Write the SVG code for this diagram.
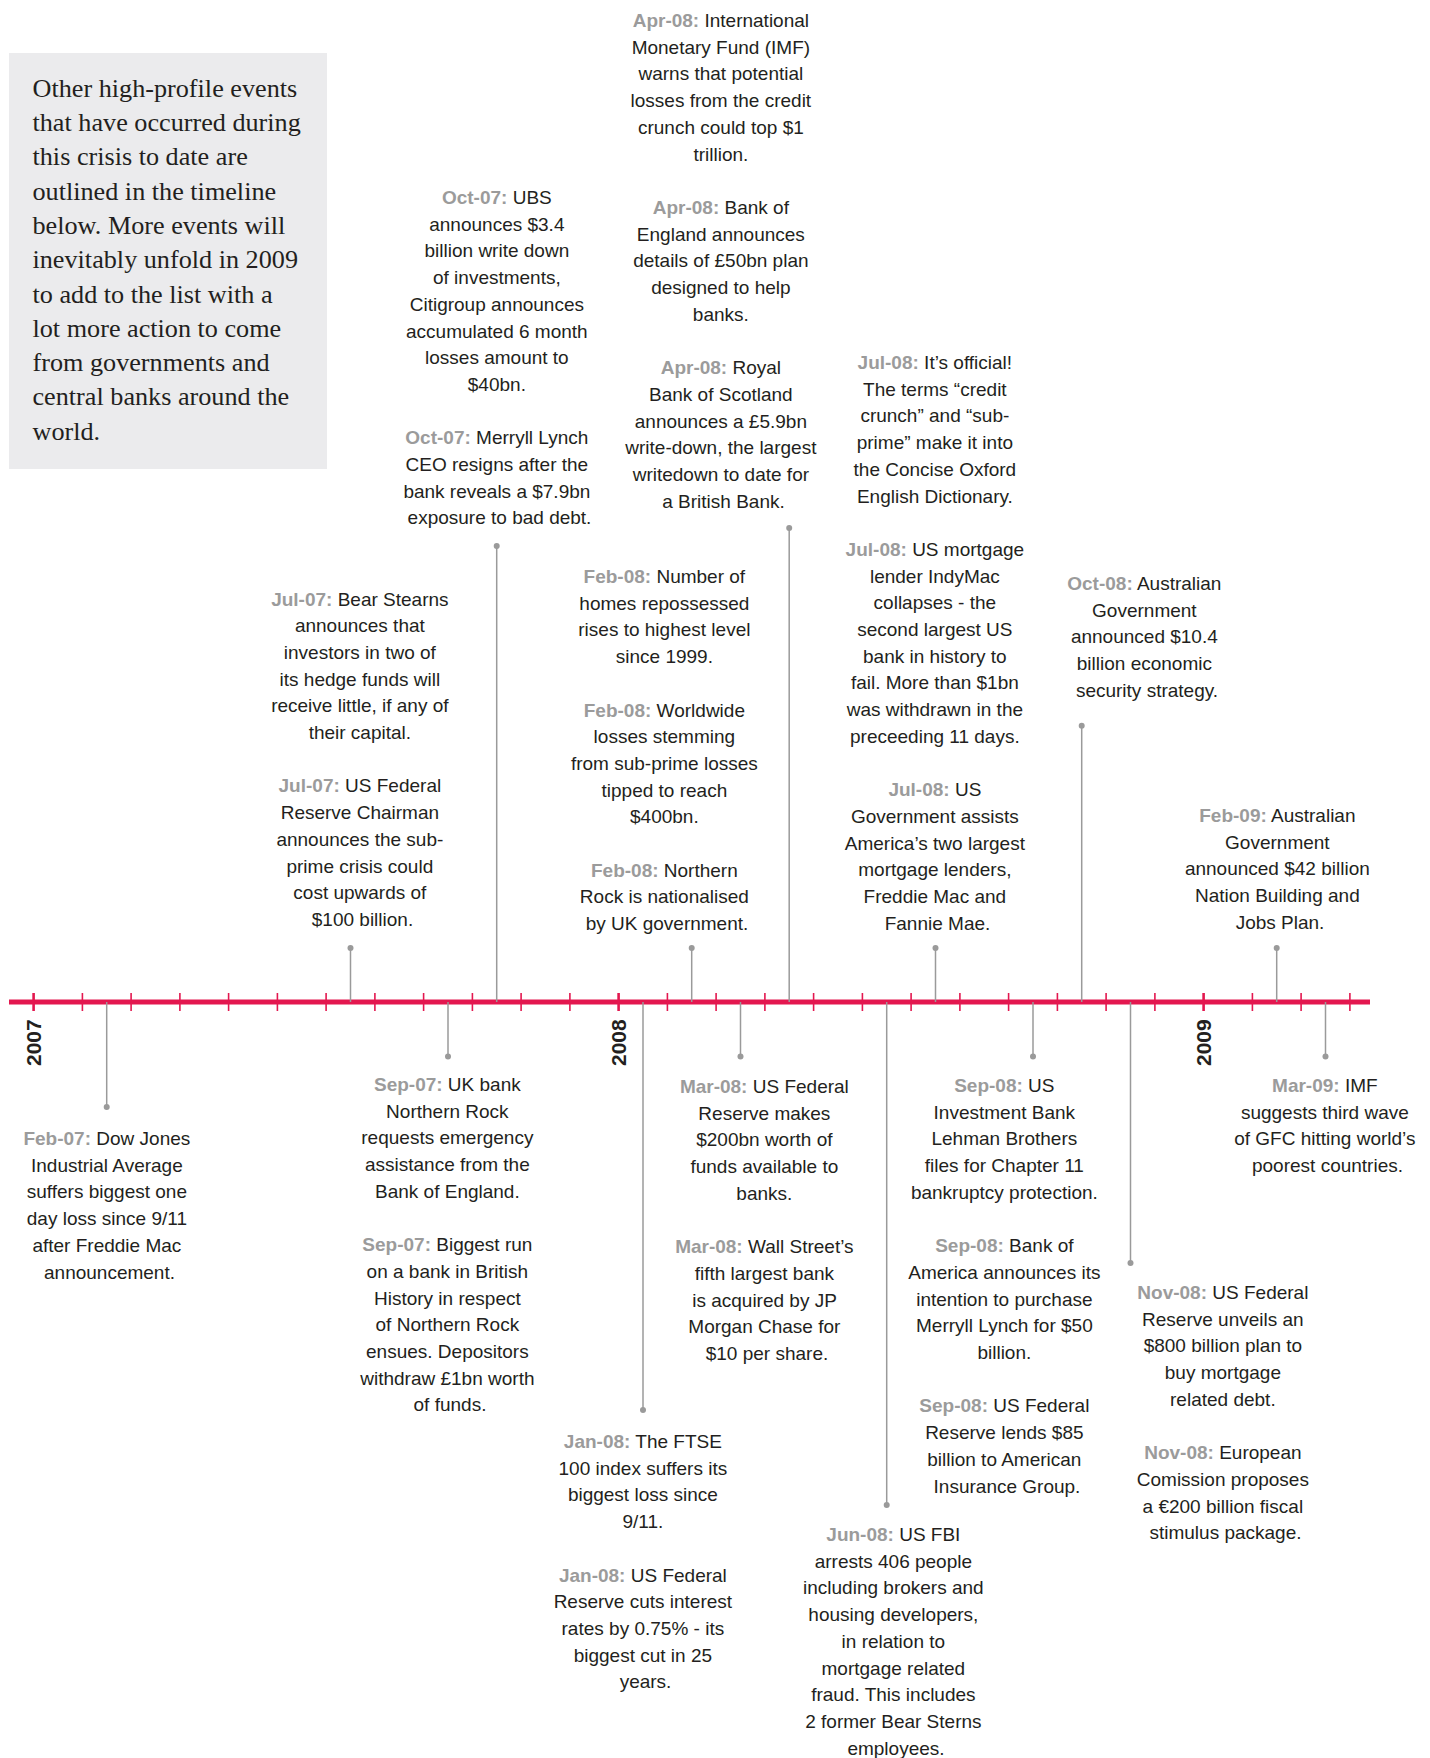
<svg xmlns="http://www.w3.org/2000/svg" width="1430" height="1758" viewBox="0 0 1430 1758">
<style>
.t{font-family:"Liberation Sans",Arial,sans-serif;font-size:19px;fill:#231f20;text-anchor:middle}
.d{font-weight:bold;fill:#9b9b9b}
.intro{font-family:"Liberation Serif","Times New Roman",serif;font-size:26.2px;fill:#231f20}
.yr{font-family:"Liberation Sans",Arial,sans-serif;font-size:21px;font-weight:bold;fill:#231f20}
.c{stroke:#9a9a9a;stroke-width:1.5;fill:none}
.dot{fill:#9a9a9a}
.tk{stroke:#e3174f;stroke-width:1.6}
.ytk{stroke:#e3174f;stroke-width:2.6}
</style>
<rect width="1430" height="1758" fill="#ffffff"/>

<g id="intro">
<rect x="9" y="53" width="318" height="416" fill="#ebebed"/>
<text class="intro">
<tspan x="32.5" y="96.7">Other high-profile events</tspan>
<tspan x="32.5" dy="34.3">that have occurred during</tspan>
<tspan x="32.5" dy="34.3">this crisis to date are</tspan>
<tspan x="32.5" dy="34.3">outlined in the timeline</tspan>
<tspan x="32.5" dy="34.3">below. More events will</tspan>
<tspan x="32.5" dy="34.3">inevitably unfold in 2009</tspan>
<tspan x="32.5" dy="34.3">to add to the list with a</tspan>
<tspan x="32.5" dy="34.3">lot more action to come</tspan>
<tspan x="32.5" dy="34.3">from governments and</tspan>
<tspan x="32.5" dy="34.3">central banks around the</tspan>
<tspan x="32.5" dy="34.3">world.</tspan>
</text>
</g>

<g id="timeline">
<line x1="9" y1="1002" x2="1370" y2="1002" stroke="#e3174f" stroke-width="5"/>
<line class="ytk" x1="33.6" y1="993" x2="33.6" y2="1011"/>
<line class="tk" x1="82.4" y1="993" x2="82.4" y2="1011"/>
<line class="tk" x1="131.1" y1="993" x2="131.1" y2="1011"/>
<line class="tk" x1="179.9" y1="993" x2="179.9" y2="1011"/>
<line class="tk" x1="228.6" y1="993" x2="228.6" y2="1011"/>
<line class="tk" x1="277.4" y1="993" x2="277.4" y2="1011"/>
<line class="tk" x1="326.1" y1="993" x2="326.1" y2="1011"/>
<line class="tk" x1="374.9" y1="993" x2="374.9" y2="1011"/>
<line class="tk" x1="423.6" y1="993" x2="423.6" y2="1011"/>
<line class="tk" x1="472.4" y1="993" x2="472.4" y2="1011"/>
<line class="tk" x1="521.1" y1="993" x2="521.1" y2="1011"/>
<line class="tk" x1="569.9" y1="993" x2="569.9" y2="1011"/>
<line class="ytk" x1="618.6" y1="993" x2="618.6" y2="1011"/>
<line class="tk" x1="667.4" y1="993" x2="667.4" y2="1011"/>
<line class="tk" x1="716.1" y1="993" x2="716.1" y2="1011"/>
<line class="tk" x1="764.9" y1="993" x2="764.9" y2="1011"/>
<line class="tk" x1="813.6" y1="993" x2="813.6" y2="1011"/>
<line class="tk" x1="862.4" y1="993" x2="862.4" y2="1011"/>
<line class="tk" x1="911.1" y1="993" x2="911.1" y2="1011"/>
<line class="tk" x1="959.9" y1="993" x2="959.9" y2="1011"/>
<line class="tk" x1="1008.6" y1="993" x2="1008.6" y2="1011"/>
<line class="tk" x1="1057.4" y1="993" x2="1057.4" y2="1011"/>
<line class="tk" x1="1106.1" y1="993" x2="1106.1" y2="1011"/>
<line class="tk" x1="1154.9" y1="993" x2="1154.9" y2="1011"/>
<line class="ytk" x1="1203.6" y1="993" x2="1203.6" y2="1011"/>
<line class="tk" x1="1252.4" y1="993" x2="1252.4" y2="1011"/>
<line class="tk" x1="1301.1" y1="993" x2="1301.1" y2="1011"/>
<line class="tk" x1="1349.9" y1="993" x2="1349.9" y2="1011"/>
<text class="yr" transform="translate(41,1066) rotate(-90)">2007</text>
<text class="yr" transform="translate(626,1066) rotate(-90)">2008</text>
<text class="yr" transform="translate(1211,1066) rotate(-90)">2009</text>
</g>

<g id="connectors">
<line class="c" x1="106.7" y1="1002" x2="106.7" y2="1107"/><circle class="dot" cx="106.7" cy="1107" r="3"/>
<line class="c" x1="350.5" y1="948" x2="350.5" y2="1002"/><circle class="dot" cx="350.5" cy="948" r="3"/>
<line class="c" x1="448" y1="1002" x2="448" y2="1056.5"/><circle class="dot" cx="448" cy="1056.5" r="3"/>
<line class="c" x1="496.7" y1="546" x2="496.7" y2="1002"/><circle class="dot" cx="496.7" cy="546" r="3"/>
<line class="c" x1="643" y1="1002" x2="643" y2="1410"/><circle class="dot" cx="643" cy="1410" r="3"/>
<line class="c" x1="691.7" y1="948" x2="691.7" y2="1002"/><circle class="dot" cx="691.7" cy="948" r="3"/>
<line class="c" x1="740.5" y1="1002" x2="740.5" y2="1056.5"/><circle class="dot" cx="740.5" cy="1056.5" r="3"/>
<line class="c" x1="789.2" y1="528" x2="789.2" y2="1002"/><circle class="dot" cx="789.2" cy="528" r="3"/>
<line class="c" x1="886.7" y1="1002" x2="886.7" y2="1505"/><circle class="dot" cx="886.7" cy="1505" r="3"/>
<line class="c" x1="935.5" y1="948" x2="935.5" y2="1002"/><circle class="dot" cx="935.5" cy="948" r="3"/>
<line class="c" x1="1033" y1="1002" x2="1033" y2="1056.5"/><circle class="dot" cx="1033" cy="1056.5" r="3"/>
<line class="c" x1="1081.7" y1="725.7" x2="1081.7" y2="1002"/><circle class="dot" cx="1081.7" cy="725.7" r="3"/>
<line class="c" x1="1130.5" y1="1002" x2="1130.5" y2="1263"/><circle class="dot" cx="1130.5" cy="1263" r="3"/>
<line class="c" x1="1276.7" y1="948" x2="1276.7" y2="1002"/><circle class="dot" cx="1276.7" cy="948" r="3"/>
<line class="c" x1="1325.5" y1="1002" x2="1325.5" y2="1056.5"/><circle class="dot" cx="1325.5" cy="1056.5" r="3"/>
</g>

<g id="ev-feb07">
<text class="t">
<tspan x="109.5" y="1145"><tspan class="d">Feb-07:</tspan> Dow Jones</tspan>
<tspan x="109.5" dy="26.7">Industrial Average</tspan>
<tspan x="109.5" dy="26.7">suffers biggest one</tspan>
<tspan x="109.5" dy="26.7">day loss since 9/11</tspan>
<tspan x="109.5" dy="26.7">after Freddie Mac</tspan>
<tspan x="109.5" dy="26.7">announcement.</tspan>
</text>
</g>

<g id="ev-jul07">
<text class="t">
<tspan x="362.5" y="605.5"><tspan class="d">Jul-07:</tspan> Bear Stearns</tspan>
<tspan x="362.5" dy="26.7">announces that</tspan>
<tspan x="362.5" dy="26.7">investors in two of</tspan>
<tspan x="362.5" dy="26.7">its hedge funds will</tspan>
<tspan x="362.5" dy="26.7">receive little, if any of</tspan>
<tspan x="362.5" dy="26.7">their capital.</tspan>
<tspan x="362.5" dy="53.4"><tspan class="d">Jul-07:</tspan> US Federal</tspan>
<tspan x="362.5" dy="26.7">Reserve Chairman</tspan>
<tspan x="362.5" dy="26.7">announces the sub-</tspan>
<tspan x="362.5" dy="26.7">prime crisis could</tspan>
<tspan x="362.5" dy="26.7">cost upwards of</tspan>
<tspan x="362.5" dy="26.7">$100 billion.</tspan>
</text>
</g>

<g id="ev-sep07">
<text class="t">
<tspan x="450" y="1091"><tspan class="d">Sep-07:</tspan> UK bank</tspan>
<tspan x="450" dy="26.7">Northern Rock</tspan>
<tspan x="450" dy="26.7">requests emergency</tspan>
<tspan x="450" dy="26.7">assistance from the</tspan>
<tspan x="450" dy="26.7">Bank of England.</tspan>
<tspan x="450" dy="53.4"><tspan class="d">Sep-07:</tspan> Biggest run</tspan>
<tspan x="450" dy="26.7">on a bank in British</tspan>
<tspan x="450" dy="26.7">History in respect</tspan>
<tspan x="450" dy="26.7">of Northern Rock</tspan>
<tspan x="450" dy="26.7">ensues. Depositors</tspan>
<tspan x="450" dy="26.7">withdraw £1bn worth</tspan>
<tspan x="450" dy="26.7">of funds.</tspan>
</text>
</g>

<g id="ev-oct07">
<text class="t">
<tspan x="499.5" y="204"><tspan class="d">Oct-07:</tspan> UBS</tspan>
<tspan x="499.5" dy="26.7">announces $3.4</tspan>
<tspan x="499.5" dy="26.7">billion write down</tspan>
<tspan x="499.5" dy="26.7">of investments,</tspan>
<tspan x="499.5" dy="26.7">Citigroup announces</tspan>
<tspan x="499.5" dy="26.7">accumulated 6 month</tspan>
<tspan x="499.5" dy="26.7">losses amount to</tspan>
<tspan x="499.5" dy="26.7">$40bn.</tspan>
<tspan x="499.5" dy="53.4"><tspan class="d">Oct-07:</tspan> Merryll Lynch</tspan>
<tspan x="499.5" dy="26.7">CEO resigns after the</tspan>
<tspan x="499.5" dy="26.7">bank reveals a $7.9bn</tspan>
<tspan x="499.5" dy="26.7">exposure to bad debt.</tspan>
</text>
</g>

<g id="ev-jan08">
<text class="t">
<tspan x="645.5" y="1448"><tspan class="d">Jan-08:</tspan> The FTSE</tspan>
<tspan x="645.5" dy="26.7">100 index suffers its</tspan>
<tspan x="645.5" dy="26.7">biggest loss since</tspan>
<tspan x="645.5" dy="26.7">9/11.</tspan>
<tspan x="645.5" dy="53.4"><tspan class="d">Jan-08:</tspan> US Federal</tspan>
<tspan x="645.5" dy="26.7">Reserve cuts interest</tspan>
<tspan x="645.5" dy="26.7">rates by 0.75% - its</tspan>
<tspan x="645.5" dy="26.7">biggest cut in 25</tspan>
<tspan x="645.5" dy="26.7">years.</tspan>
</text>
</g>

<g id="ev-feb08">
<text class="t">
<tspan x="667" y="583"><tspan class="d">Feb-08:</tspan> Number of</tspan>
<tspan x="667" dy="26.7">homes repossessed</tspan>
<tspan x="667" dy="26.7">rises to highest level</tspan>
<tspan x="667" dy="26.7">since 1999.</tspan>
<tspan x="667" dy="53.4"><tspan class="d">Feb-08:</tspan> Worldwide</tspan>
<tspan x="667" dy="26.7">losses stemming</tspan>
<tspan x="667" dy="26.7">from sub-prime losses</tspan>
<tspan x="667" dy="26.7">tipped to reach</tspan>
<tspan x="667" dy="26.7">$400bn.</tspan>
<tspan x="667" dy="53.4"><tspan class="d">Feb-08:</tspan> Northern</tspan>
<tspan x="667" dy="26.7">Rock is nationalised</tspan>
<tspan x="667" dy="26.7">by UK government.</tspan>
</text>
</g>

<g id="ev-mar08">
<text class="t">
<tspan x="767" y="1093"><tspan class="d">Mar-08:</tspan> US Federal</tspan>
<tspan x="767" dy="26.7">Reserve makes</tspan>
<tspan x="767" dy="26.7">$200bn worth of</tspan>
<tspan x="767" dy="26.7">funds available to</tspan>
<tspan x="767" dy="26.7">banks.</tspan>
<tspan x="767" dy="53.4"><tspan class="d">Mar-08:</tspan> Wall Street’s</tspan>
<tspan x="767" dy="26.7">fifth largest bank</tspan>
<tspan x="767" dy="26.7">is acquired by JP</tspan>
<tspan x="767" dy="26.7">Morgan Chase for</tspan>
<tspan x="767" dy="26.7">$10 per share.</tspan>
</text>
</g>

<g id="ev-apr08">
<text class="t">
<tspan x="723.5" y="27"><tspan class="d">Apr-08:</tspan> International</tspan>
<tspan x="723.5" dy="26.7">Monetary Fund (IMF)</tspan>
<tspan x="723.5" dy="26.7">warns that potential</tspan>
<tspan x="723.5" dy="26.7">losses from the credit</tspan>
<tspan x="723.5" dy="26.7">crunch could top $1</tspan>
<tspan x="723.5" dy="26.7">trillion.</tspan>
<tspan x="723.5" dy="53.4"><tspan class="d">Apr-08:</tspan> Bank of</tspan>
<tspan x="723.5" dy="26.7">England announces</tspan>
<tspan x="723.5" dy="26.7">details of £50bn plan</tspan>
<tspan x="723.5" dy="26.7">designed to help</tspan>
<tspan x="723.5" dy="26.7">banks.</tspan>
<tspan x="723.5" dy="53.4"><tspan class="d">Apr-08:</tspan> Royal</tspan>
<tspan x="723.5" dy="26.7">Bank of Scotland</tspan>
<tspan x="723.5" dy="26.7">announces a £5.9bn</tspan>
<tspan x="723.5" dy="26.7">write-down, the largest</tspan>
<tspan x="723.5" dy="26.7">writedown to date for</tspan>
<tspan x="723.5" dy="26.7">a British Bank.</tspan>
</text>
</g>

<g id="ev-jun08">
<text class="t">
<tspan x="896" y="1541"><tspan class="d">Jun-08:</tspan> US FBI</tspan>
<tspan x="896" dy="26.7">arrests 406 people</tspan>
<tspan x="896" dy="26.7">including brokers and</tspan>
<tspan x="896" dy="26.7">housing developers,</tspan>
<tspan x="896" dy="26.7">in relation to</tspan>
<tspan x="896" dy="26.7">mortgage related</tspan>
<tspan x="896" dy="26.7">fraud. This includes</tspan>
<tspan x="896" dy="26.7">2 former Bear Sterns</tspan>
<tspan x="896" dy="26.7">employees.</tspan>
</text>
</g>

<g id="ev-jul08">
<text class="t">
<tspan x="937.5" y="369"><tspan class="d">Jul-08:</tspan> It’s official!</tspan>
<tspan x="937.5" dy="26.7">The terms “credit</tspan>
<tspan x="937.5" dy="26.7">crunch” and “sub-</tspan>
<tspan x="937.5" dy="26.7">prime” make it into</tspan>
<tspan x="937.5" dy="26.7">the Concise Oxford</tspan>
<tspan x="937.5" dy="26.7">English Dictionary.</tspan>
<tspan x="937.5" dy="53.4"><tspan class="d">Jul-08:</tspan> US mortgage</tspan>
<tspan x="937.5" dy="26.7">lender IndyMac</tspan>
<tspan x="937.5" dy="26.7">collapses - the</tspan>
<tspan x="937.5" dy="26.7">second largest US</tspan>
<tspan x="937.5" dy="26.7">bank in history to</tspan>
<tspan x="937.5" dy="26.7">fail. More than $1bn</tspan>
<tspan x="937.5" dy="26.7">was withdrawn in the</tspan>
<tspan x="937.5" dy="26.7">preceeding 11 days.</tspan>
<tspan x="937.5" dy="53.4"><tspan class="d">Jul-08:</tspan> US</tspan>
<tspan x="937.5" dy="26.7">Government assists</tspan>
<tspan x="937.5" dy="26.7">America’s two largest</tspan>
<tspan x="937.5" dy="26.7">mortgage lenders,</tspan>
<tspan x="937.5" dy="26.7">Freddie Mac and</tspan>
<tspan x="937.5" dy="26.7">Fannie Mae.</tspan>
</text>
</g>

<g id="ev-sep08">
<text class="t">
<tspan x="1007" y="1092"><tspan class="d">Sep-08:</tspan> US</tspan>
<tspan x="1007" dy="26.7">Investment Bank</tspan>
<tspan x="1007" dy="26.7">Lehman Brothers</tspan>
<tspan x="1007" dy="26.7">files for Chapter 11</tspan>
<tspan x="1007" dy="26.7">bankruptcy protection.</tspan>
<tspan x="1007" dy="53.4"><tspan class="d">Sep-08:</tspan> Bank of</tspan>
<tspan x="1007" dy="26.7">America announces its</tspan>
<tspan x="1007" dy="26.7">intention to purchase</tspan>
<tspan x="1007" dy="26.7">Merryll Lynch for $50</tspan>
<tspan x="1007" dy="26.7">billion.</tspan>
<tspan x="1007" dy="53.4"><tspan class="d">Sep-08:</tspan> US Federal</tspan>
<tspan x="1007" dy="26.7">Reserve lends $85</tspan>
<tspan x="1007" dy="26.7">billion to American</tspan>
<tspan x="1007" dy="26.7">Insurance Group.</tspan>
</text>
</g>

<g id="ev-oct08">
<text class="t">
<tspan x="1147" y="590"><tspan class="d">Oct-08:</tspan> Australian</tspan>
<tspan x="1147" dy="26.7">Government</tspan>
<tspan x="1147" dy="26.7">announced $10.4</tspan>
<tspan x="1147" dy="26.7">billion economic</tspan>
<tspan x="1147" dy="26.7">security strategy.</tspan>
</text>
</g>

<g id="ev-nov08">
<text class="t">
<tspan x="1225.5" y="1299"><tspan class="d">Nov-08:</tspan> US Federal</tspan>
<tspan x="1225.5" dy="26.7">Reserve unveils an</tspan>
<tspan x="1225.5" dy="26.7">$800 billion plan to</tspan>
<tspan x="1225.5" dy="26.7">buy mortgage</tspan>
<tspan x="1225.5" dy="26.7">related debt.</tspan>
<tspan x="1225.5" dy="53.4"><tspan class="d">Nov-08:</tspan> European</tspan>
<tspan x="1225.5" dy="26.7">Comission proposes</tspan>
<tspan x="1225.5" dy="26.7">a €200 billion fiscal</tspan>
<tspan x="1225.5" dy="26.7">stimulus package.</tspan>
</text>
</g>

<g id="ev-feb09">
<text class="t">
<tspan x="1280" y="822"><tspan class="d">Feb-09:</tspan> Australian</tspan>
<tspan x="1280" dy="26.7">Government</tspan>
<tspan x="1280" dy="26.7">announced $42 billion</tspan>
<tspan x="1280" dy="26.7">Nation Building and</tspan>
<tspan x="1280" dy="26.7">Jobs Plan.</tspan>
</text>
</g>

<g id="ev-mar09">
<text class="t">
<tspan x="1327.5" y="1092"><tspan class="d">Mar-09:</tspan> IMF</tspan>
<tspan x="1327.5" dy="26.7">suggests third wave</tspan>
<tspan x="1327.5" dy="26.7">of GFC hitting world’s</tspan>
<tspan x="1327.5" dy="26.7">poorest countries.</tspan>
</text>
</g>
</svg>
